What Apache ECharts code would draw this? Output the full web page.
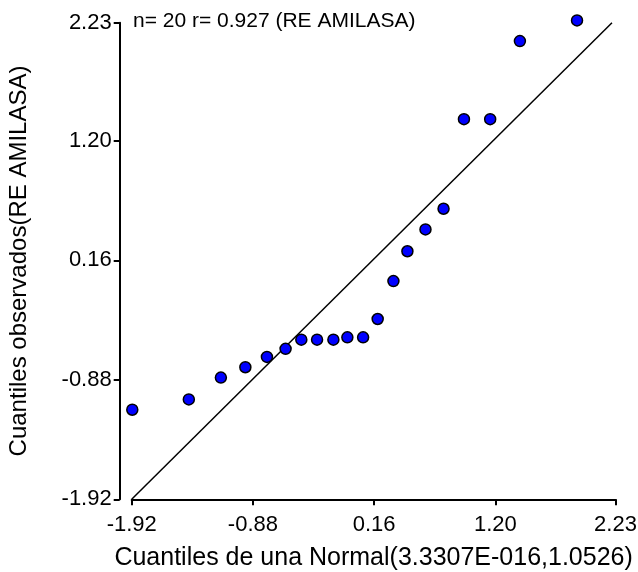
<!DOCTYPE html>
<html>
<head>
<meta charset="utf-8">
<script src="https://cdn.jsdelivr.net/npm/echarts@6/dist/echarts.min.js"></script>
<style>
    html, body { margin: 0; padding: 0; background: #fff; }
    #qqplot { width: 638px; height: 572px; }
</style>
</head>
<body>
<div id="qqplot"></div>
<script>
// cuantiles de la normal (eje x) y cuantiles observados (eje y)
var qNormal = [-1.915, -1.43, -1.155, -0.945, -0.76, -0.60, -0.465, -0.33, -0.19, -0.07,
               0.065, 0.19, 0.325, 0.445, 0.60, 0.755, 0.93, 1.155, 1.41, 1.90];
var qObs = [-1.14, -1.05, -0.86, -0.77, -0.68, -0.61, -0.53, -0.53, -0.53, -0.51,
            -0.51, -0.35, -0.02, 0.24, 0.43, 0.61, 1.39, 1.39, 2.07, 2.25];
var xTicks = [-1.92, -0.88, 0.16, 1.20, 2.23];
var yTicks = [-1.92, -0.88, 0.16, 1.20, 2.23];
var refLineX = [-1.92, 2.20];
var refLineY = [-1.92, 2.23];
var xTitle = 'Cuantiles de una Normal(3.3307E-016,1.0526)';
var yTitle = 'Cuantiles observados(RE AMILASA)';
var note = 'n= 20 r= 0.927 (RE AMILASA)';

function pairs(xs, ys) {
    var out = [];
    for (var i = 0; i < xs.length; i++) {
        out.push([xs[i], ys[i]]);
    }
    return out;
}

function axisBase(ticks) {
    return {
        type: 'value',
        min: ticks[0],
        max: ticks[ticks.length - 1],
        axisLine: { onZero: false, lineStyle: { color: '#000', width: 2 } },
        axisTick: { length: 6, customValues: ticks, lineStyle: { color: '#000', width: 2 } },
        axisLabel: {
            customValues: ticks,
            color: '#000',
            fontSize: 22,
            fontFamily: 'Liberation Sans, Arial, sans-serif',
            formatter: function (v) { return v.toFixed(2); }
        },
        splitLine: { show: false },
        nameLocation: 'middle',
        nameTextStyle: { color: '#000', fontSize: 24, fontFamily: 'Liberation Sans, Arial, sans-serif' }
    };
}

var xAxis = axisBase(xTicks);
xAxis.name = xTitle;
xAxis.nameGap = 46;
xAxis.nameTextStyle.fontSize = 25;
xAxis.axisLabel.margin = 15;

var yAxis = axisBase(yTicks);
yAxis.name = yTitle;
yAxis.nameGap = 88;
yAxis.offset = 12;
yAxis.axisLabel.margin = 8;

var myChart = echarts.init(document.getElementById('qqplot'));
myChart.setOption({
    animation: false,
    backgroundColor: '#fff',
    grid: { left: 131.7, right: 22.5, top: 22.7, bottom: 72.7, containLabel: false, outerBoundsMode: 'none' },
    xAxis: xAxis,
    yAxis: yAxis,
    graphic: [{
        type: 'text',
        left: 133,
        top: 11,
        style: {
            text: note,
            fill: '#000',
            font: '21px "Liberation Sans", Arial, sans-serif'
        }
    }],
    series: [
        {
            type: 'line',
            data: pairs(refLineX, refLineY),
            showSymbol: false,
            lineStyle: { color: '#000', width: 1.5 },
            z: 1
        },
        {
            type: 'scatter',
            data: pairs(qNormal, qObs),
            symbolSize: 11,
            clip: false,
            itemStyle: { color: '#0000ff', borderColor: '#000', borderWidth: 1.5, opacity: 1 },
            z: 2
        }
    ]
});
</script>
</body>
</html>
